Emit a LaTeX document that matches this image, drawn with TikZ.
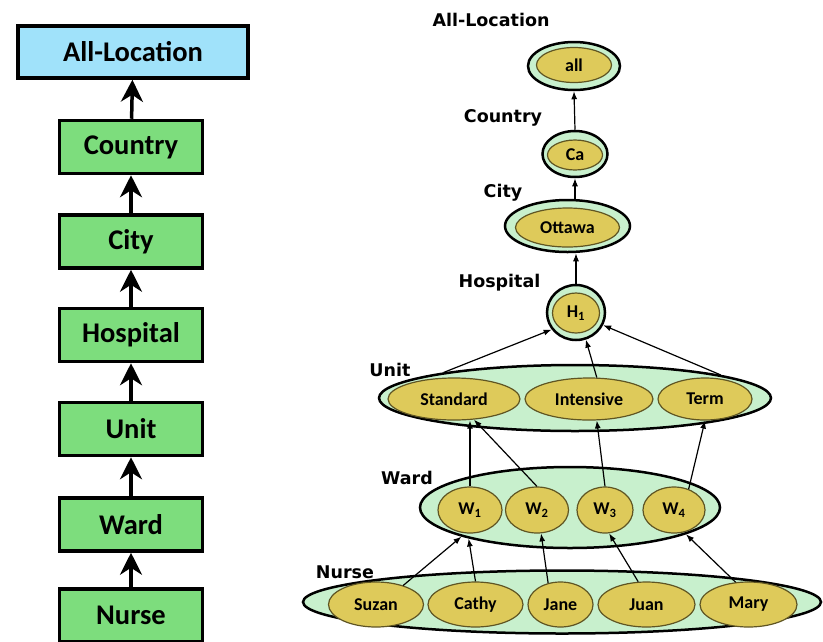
\documentclass[tikz,border=0pt]{standalone}
\usepackage{fontspec}
\setmainfont{Carlito}
\newfontfamily\lblfont{DejaVu Sans}
\usetikzlibrary{shapes.geometric,arrows.meta}
\definecolor{boxblue}{RGB}{160,226,250}
\definecolor{boxgreen}{RGB}{125,221,125}
\definecolor{ringgreen}{RGB}{200,240,205}
\definecolor{coreyellow}{RGB}{222,202,90}
\definecolor{coreedge}{RGB}{95,85,35}

\begin{document}
\begin{tikzpicture}[x=1pt,y=-1pt,
    box/.style={draw,line width=3.5pt,fill=boxgreen,minimum width=143pt,minimum height=53pt,
      font=\fontsize{28.5}{30}\selectfont\bfseries},
    up/.style={line width=3.5pt,-{Stealth[length=22pt,width=22pt,inset=7pt]}},
    ring/.style={ellipse,draw,line width=2.5pt,fill=ringgreen,inner sep=0pt},
    core/.style={ellipse,draw=coreedge,line width=1.2pt,fill=coreyellow,inner sep=0pt,
      font=\fontsize{18}{20}\selectfont\bfseries},
    lvl/.style={font=\lblfont\fontsize{17.5}{19}\selectfont\bfseries},
    link/.style={line width=1.2pt,-{Latex[length=8pt,width=6pt]}}]
    \useasboundingbox (0,0) rectangle (823,641);
    %left column: the hierarchy as boxes
    \node[box,fill=boxblue,minimum width=230pt,minimum height=52pt] (tAll) at (133,52) {All-Location};
    \node[box] (tCountry) at (131,147) {Country};
    \node[box] (tCity) at (131,241.5) {City};
    \node[box] (tHosp) at (131,335) {Hospital};
    \node[box] (tUnit) at (131,429) {Unit};
    \node[box] (tWard) at (131,524.5) {Ward};
    \node[box] (tNurse) at (131,615.5) {Nurse};
    \foreach \a/\b in {tNurse/tWard,tWard/tUnit,tUnit/tHosp,tHosp/tCity,tCity/tCountry,tCountry/tAll}
        \draw[up] (\a) -- (\b);

    %right side: rings with their members
    \node[ring,minimum width=92pt,minimum height=48pt] (allR) at (574,66) {};
    \node[core,minimum width=75pt,minimum height=35pt] (all) at (574,65) {all};
    \node[ring,minimum width=65pt,minimum height=46pt] (caR) at (575,154) {};
    \node[core,minimum width=55pt,minimum height=30pt] (ca) at (575,155) {Ca};
    \node[ring,minimum width=125pt,minimum height=52pt] (ottR) at (567.5,226) {};
    \node[core,minimum width=104pt,minimum height=39pt] (ott) at (567.5,227.5) {Ottawa};
    \node[ring,minimum width=58pt,minimum height=55pt] (hR) at (576,312.5) {};
    \node[core,minimum width=47pt,minimum height=40pt] (h1) at (576,313) {H\textsubscript{1}};

    \node[ring,minimum width=392pt,minimum height=66pt] (unitR) at (575,398) {};
    \node[core,minimum width=132pt,minimum height=42pt] (std) at (454,399) {Standard};
    \node[core,minimum width=128pt,minimum height=42pt] (int) at (589,399) {Intensive};
    \node[core,minimum width=94pt,minimum height=42pt] (term) at (705,399) {Term};

    \node[ring,minimum width=300pt,minimum height=81pt] (wardR) at (570,507.5) {};
    \node[core,minimum width=64pt,minimum height=46pt] (w1) at (470,510) {W\textsubscript{1}};
    \node[core,minimum width=63pt,minimum height=46pt] (w2) at (537,510) {W\textsubscript{2}};
    \node[core,minimum width=56pt,minimum height=46pt] (w3) at (605,510) {W\textsubscript{3}};
    \node[core,minimum width=62pt,minimum height=46pt] (w4) at (674,510) {W\textsubscript{4}};

    \node[ring,minimum width=518pt,minimum height=63pt] (nurseR) at (562,602) {};
    \node[core,minimum width=95pt,minimum height=45pt] (suz) at (376,604.5) {Suzan};
    \node[core,minimum width=95pt,minimum height=45pt] (cat) at (475.5,604.5) {Cathy};
    \node[core,minimum width=65pt,minimum height=45pt] (jane) at (560.5,604.5) {Jane};
    \node[core,minimum width=97pt,minimum height=45pt] (juan) at (646.5,604.5) {Juan};
    \node[core,minimum width=97pt,minimum height=45pt] (mary) at (748.5,604.5) {Mary};

    %level names
    \node[lvl] (lAll) at (491,20) {All-Location};
    \node[lvl] (lCountry) at (503,118) {Country};
    \node[lvl] (lCity) at (503,193) {City};
    \node[lvl] (lHosp) at (499.5,283) {Hospital};
    \node[lvl] (lUnit) at (390,370) {Unit};
    \node[lvl] (lWard) at (407,478) {Ward};
    \node[lvl] (lNurse) at (345,572) {Nurse};

    %roll-up arrows
    \draw[link] (caR.north) -- (allR.south);
    \draw[link] (ottR.north -| caR) -- (caR.south);
    \draw[link] (hR.north) -- (hR.north |- ottR.south);
    \draw[link] (unitR.169) -- (hR.215);
    \draw[link] (int.70) -- (hR.290);
    \draw[link] (unitR.9) -- (hR.335);
    \draw[link] (w1.north) -- (w1.north |- std.south);
    \draw[link] (w2.north) -- (std.314);
    \draw[link] (w3.north) -- (int.290);
    \draw[link] (w4.55) -- (term.south);
    \draw[link] (suz.35) -- (wardR.195);
    \draw[link] (cat.north) -- (wardR.197);
    \draw[link] (jane.120) -- (w2.280);
    \draw[link] (juan.110) -- (w3.280);
    \draw[link] (mary.120) -- (wardR.347);
\end{tikzpicture}
\end{document}
